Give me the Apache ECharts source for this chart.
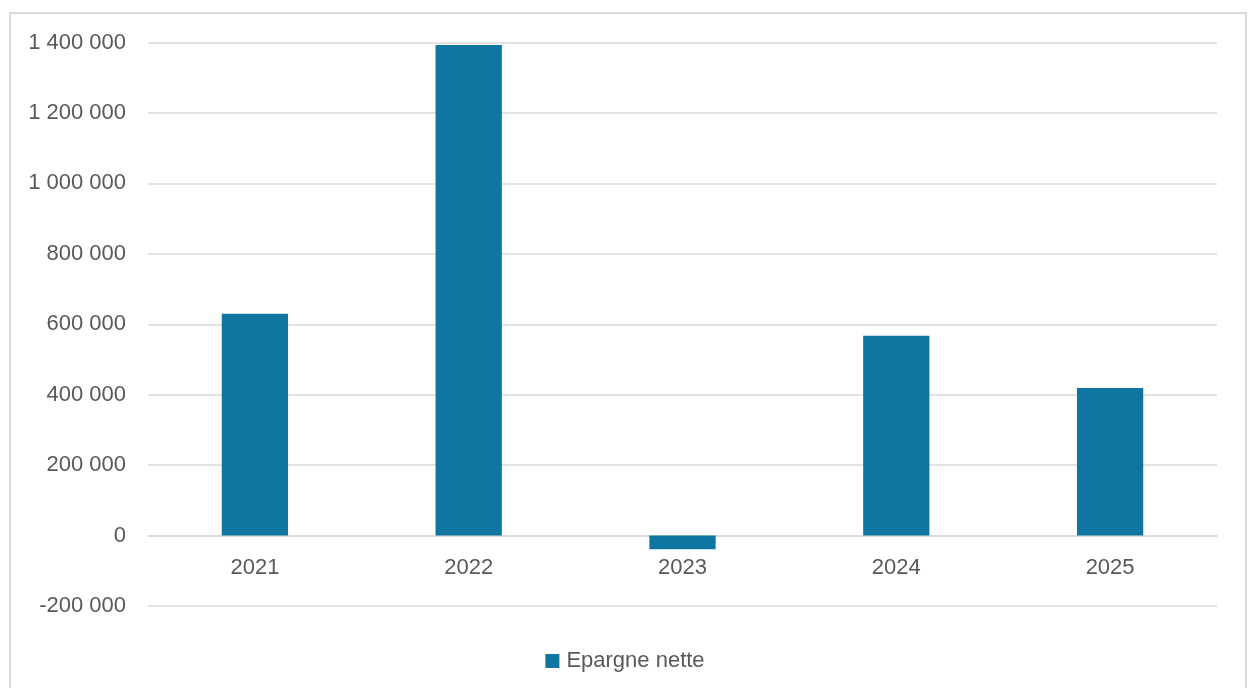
<!DOCTYPE html>
<html>
<head>
<meta charset="utf-8">
<script src="https://cdn.jsdelivr.net/npm/echarts@6/dist/echarts.min.js"></script>
<style>
html,body{margin:0;padding:0;background:#fff;}
#chart{width:1250px;height:688px;}
</style>
</head>
<body>
<div id="chart"></div>
<script>
const categories = ['2021', '2022', '2023', '2024', '2025'];
const epargneNette = [630000, 1393000, -39000, 567000, 419000];
const seriesName = 'Epargne nette';
const yTicks = [-200000, 0, 200000, 400000, 600000, 800000, 1000000, 1200000, 1400000];

function fmt(v) {
  const neg = v < 0;
  const s = String(Math.abs(v)).replace(/\B(?=(\d{3})+(?!\d))/g, ' ');
  return (neg ? '-' : '') + s;
}

const FONT = 'Liberation Sans';
const gridTop = 42.5, gridBottom = 82, H = 688;
const plotH = H - gridTop - gridBottom;
const yMin = yTicks[0], yMax = yTicks[yTicks.length - 1];
// distance from bottom of grid up to the zero line
const zeroOffset = plotH * (0 - yMin) / (yMax - yMin);

const chart = echarts.init(document.getElementById('chart'));
chart.setOption({
  animation: false,
  textStyle: { fontFamily: FONT },
  graphic: [{
    type: 'rect',
    shape: { x: 10, y: 13, width: 1236, height: 690 },
    style: { fill: 'none', stroke: '#D9D9D9', lineWidth: 2 },
    silent: true,
    z: -1
  }],
  grid: { left: 148, right: 33, top: gridTop, bottom: gridBottom, containLabel: false },
  legend: {
    bottom: 11,
    left: 'center',
    itemWidth: 14,
    itemHeight: 14,
    itemGap: 10,
    icon: 'rect',
    textStyle: { color: '#595959', fontSize: 22, fontFamily: FONT, padding: [0, 0, 0, 2] },
    data: [seriesName]
  },
  xAxis: {
    type: 'category',
    data: categories,
    offset: -zeroOffset,
    axisLine: { onZero: false, lineStyle: { color: '#D9D9D9', width: 1.5 } },
    axisTick: { show: false },
    axisLabel: { color: '#595959', fontSize: 22, margin: 21, fontFamily: FONT }
  },
  yAxis: {
    type: 'value',
    min: yMin,
    max: yMax,
    interval: 200000,
    axisLine: { show: false },
    axisTick: { show: false },
    splitLine: { lineStyle: { color: '#D9D9D9', width: 1.5 } },
    axisLabel: { color: '#595959', fontSize: 22, margin: 22, formatter: fmt, fontFamily: FONT }
  },
  series: [{
    name: seriesName,
    type: 'bar',
    data: epargneNette,
    barWidth: '31%',
    itemStyle: { color: '#0E76A0' }
  }]
});
</script>
</body>
</html>
